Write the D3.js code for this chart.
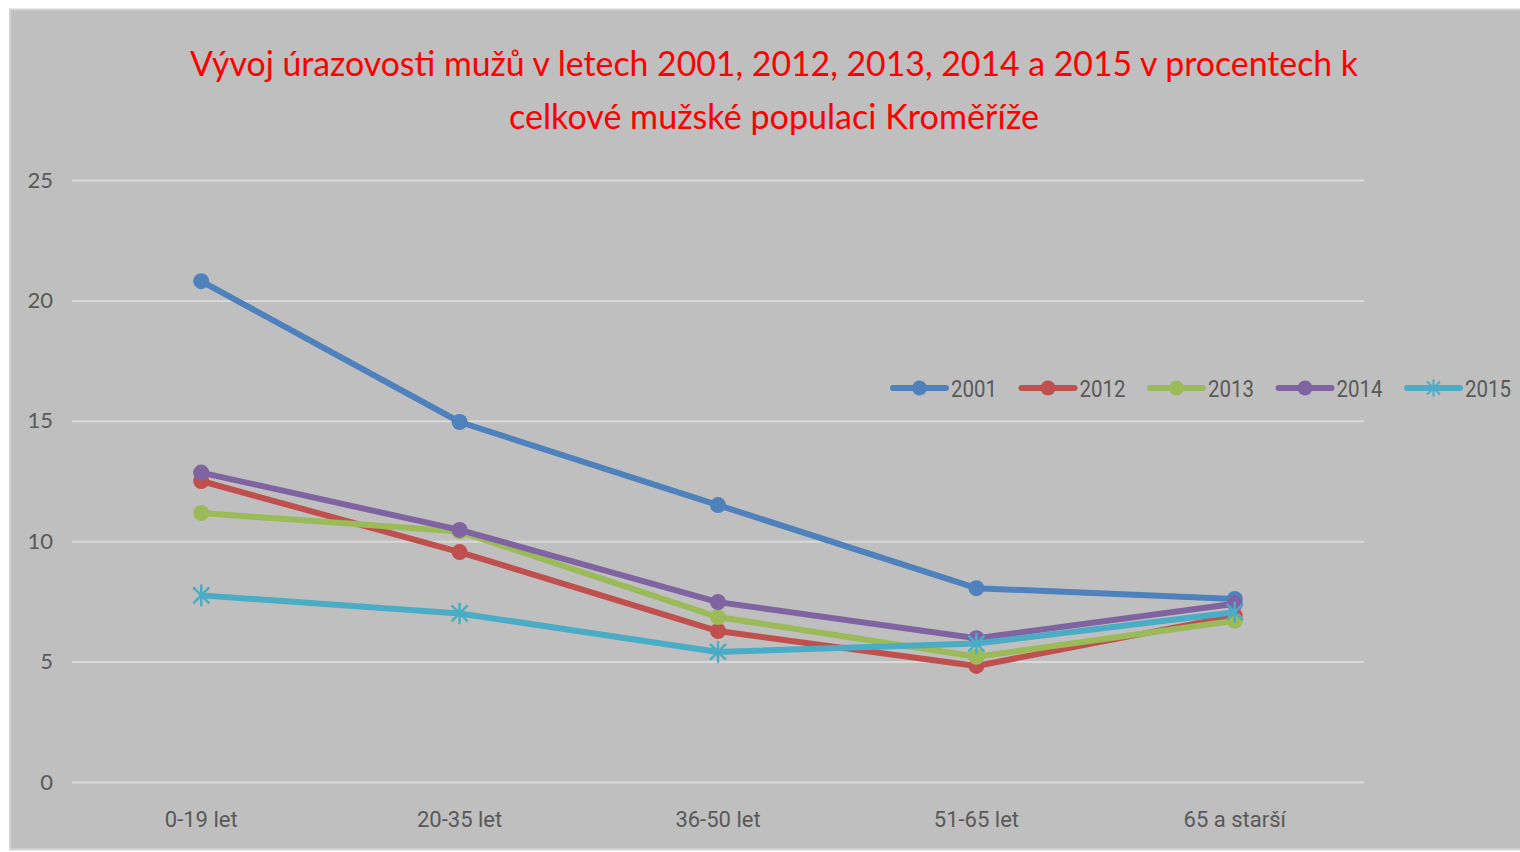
<!DOCTYPE html>
<html>
<head>
<meta charset="utf-8">
<script src="https://cdn.jsdelivr.net/npm/d3@7"></script>
<style>
  body { margin: 0; background: #fff; }
  svg { display: block; }
</style>
</head>
<body>
<div id="chart"></div>
<script>
const categories = ['0-19 let', '20-35 let', '36-50 let', '51-65 let', '65 a starší'];
const years = ['2001', '2012', '2013', '2014', '2015'];
const values2001 = [20.8, 14.95, 11.5, 8.05, 7.6];
const values2012 = [12.5, 9.55, 6.27, 4.82, 6.9];
const values2013 = [11.17, 10.4, 6.85, 5.2, 6.7];
const values2014 = [12.85, 10.47, 7.47, 5.97, 7.4];
const values2015 = [7.75, 7.0, 5.4, 5.75, 7.05];
const yTicks = [0, 5, 10, 15, 20, 25];
const colors = ['#4f81bd', '#c0504d', '#9bbb59', '#8064a2', '#4bacc6'];

const series = years.map((y, i) => ({
  year: y,
  color: colors[i],
  star: y === '2015',
  values: [values2001, values2012, values2013, values2014, values2015][i]
}));

const width = 1520;
const height = 852;
const plot = { left: 72, right: 1364, top: 180, bottom: 782 };

const svg = d3.select('#chart')
  .append('svg')
  .attr('width', width)
  .attr('height', height);

// chart frame
svg.append('rect')
  .attr('x', 10).attr('y', 9.5)
  .attr('width', width).attr('height', 840)
  .attr('fill', '#bfbfbf')
  .attr('stroke', '#d4d4d4')
  .attr('stroke-width', 2);

const xScale = d3.scaleBand()
  .domain(categories)
  .range([plot.left, plot.right]);

const yScale = d3.scaleLinear()
  .domain([0, 25])
  .range([plot.bottom, plot.top]);

// gridlines
svg.append('g')
  .attr('class', 'gridlines')
  .attr('transform', `translate(${plot.left}, 0)`)
  .call(d3.axisLeft(yScale).tickValues(yTicks).tickFormat('').tickSize(-(plot.right - plot.left)))
  .call(g => g.select('.domain').remove())
  .call(g => g.selectAll('line').attr('stroke', '#d9d9d9').attr('stroke-width', 2));

// y axis labels
svg.append('g')
  .attr('transform', `translate(${plot.left}, 0)`)
  .call(d3.axisLeft(yScale).tickValues(yTicks).tickSize(0).tickPadding(19))
  .call(g => g.select('.domain').remove())
  .call(g => g.selectAll('text')
    .attr('fill', '#595959')
    .style('font-family', 'Lato, "Open Sans", sans-serif')
    .style('font-size', '22px'));

// x axis labels
svg.append('g')
  .attr('transform', `translate(0, ${plot.bottom})`)
  .call(d3.axisBottom(xScale).tickSize(0).tickPadding(29))
  .call(g => g.select('.domain').remove())
  .call(g => g.selectAll('text')
    .attr('fill', '#595959')
    .style('font-family', '"Liberation Sans Narrow", "Roboto", sans-serif')
    .style('font-size', '22px'));

const cx = (i) => xScale(categories[i]) + xScale.bandwidth() / 2;

function starPath(s) {
  return `M${-s},${-s}L${s},${s}M${-s},${s}L${s},${-s}M0,${-s * 1.35}L0,${s * 1.35}`;
}

const line = d3.line()
  .x((d, i) => cx(i))
  .y(d => yScale(d));

const groups = svg.append('g').selectAll('g.series')
  .data(series)
  .join('g')
  .attr('class', 'series');

groups.append('path')
  .attr('d', d => line(d.values))
  .attr('fill', 'none')
  .attr('stroke', d => d.color)
  .attr('stroke-width', 6)
  .attr('stroke-linejoin', 'round');

groups.each(function (s) {
  const g = d3.select(this);
  if (s.star) {
    g.selectAll('path.mark')
      .data(s.values)
      .join('path')
      .attr('class', 'mark')
      .attr('transform', (d, i) => `translate(${cx(i)},${yScale(d)})`)
      .attr('d', starPath(8))
      .attr('stroke', s.color)
      .attr('stroke-width', 2.5)
      .attr('fill', 'none');
  } else {
    g.selectAll('circle')
      .data(s.values)
      .join('circle')
      .attr('cx', (d, i) => cx(i))
      .attr('cy', d => yScale(d))
      .attr('r', 8)
      .attr('fill', s.color);
  }
});

// title
const title = svg.append('text')
  .attr('x', 774)
  .attr('text-anchor', 'middle')
  .attr('fill', '#ff0000')
  .style('font-family', 'Lato, "Open Sans", sans-serif')
  .style('font-size', '35px');
title.append('tspan').attr('x', 774).attr('y', 76)
  .attr('textLength', 1168).attr('lengthAdjust', 'spacingAndGlyphs')
  .text('Vývoj úrazovosti mužů v letech 2001, 2012, 2013, 2014 a 2015 v procentech k');
title.append('tspan').attr('x', 774).attr('y', 129)
  .attr('textLength', 530).attr('lengthAdjust', 'spacingAndGlyphs')
  .text('celkové mužské populaci Kroměříže');

// legend
const legend = svg.append('g')
  .attr('transform', 'translate(893, 388)');
const items = legend.selectAll('g')
  .data(series)
  .join('g')
  .attr('transform', (d, i) => `translate(${i * 128.5}, 0)`);
items.append('line')
  .attr('x1', 0).attr('x2', 53)
  .attr('stroke', d => d.color)
  .attr('stroke-width', 6)
  .attr('stroke-linecap', 'round');
items.filter(d => !d.star).append('circle')
  .attr('cx', 26.5).attr('r', 7.5)
  .attr('fill', d => d.color);
items.filter(d => d.star).append('path')
  .attr('transform', 'translate(26.5,0)')
  .attr('d', starPath(6.5))
  .attr('stroke', d => d.color)
  .attr('stroke-width', 2)
  .attr('fill', 'none');
items.append('text')
  .attr('x', 58).attr('y', 9)
  .attr('fill', '#595959')
  .attr('textLength', 46).attr('lengthAdjust', 'spacingAndGlyphs')
  .style('font-family', '"Liberation Sans Narrow", "Roboto", sans-serif')
  .style('font-size', '24px')
  .text(d => d.year);
</script>
</body>
</html>
